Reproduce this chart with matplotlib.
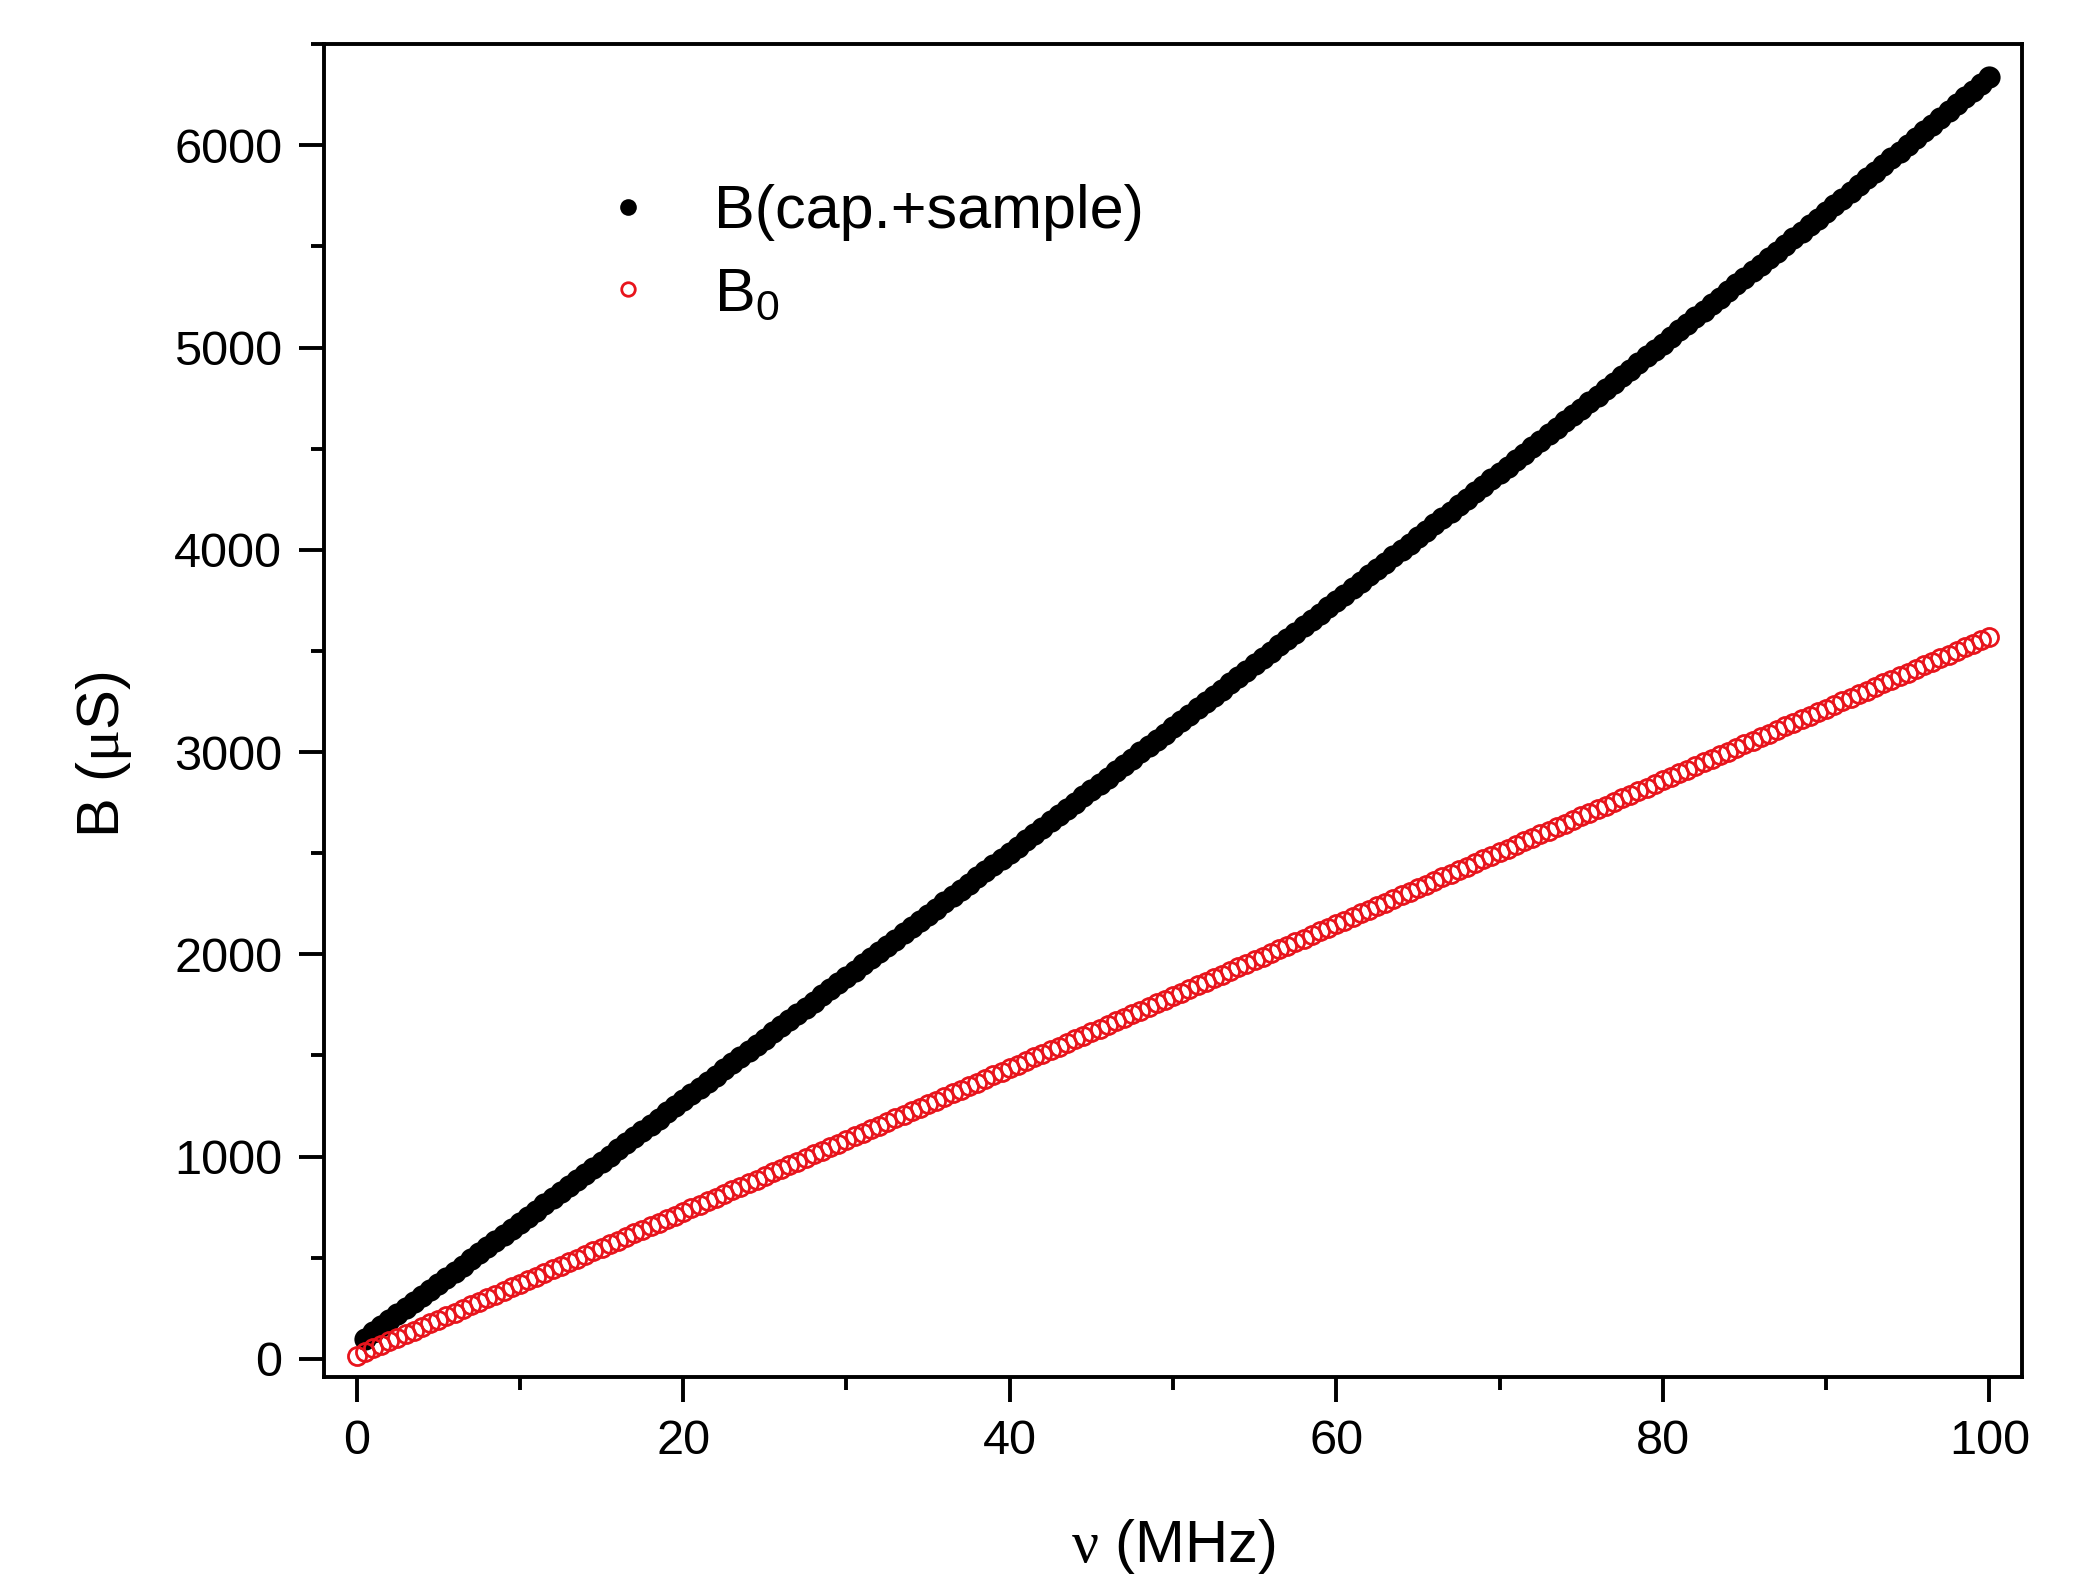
import numpy as np
import matplotlib
matplotlib.use("Agg")
import matplotlib.pyplot as plt
from matplotlib.ticker import MultipleLocator

# --- data (frequency sweep, 0.5 MHz steps) ---
nu_sample = np.arange(0.5, 100.01, 0.5)   # MHz, 200 points
nu_b0 = np.arange(0.0, 100.01, 0.5)       # MHz, 201 points

B_sample = [
    100, 130, 160, 190, 221, 251, 281, 311, 341, 371,
    401, 431, 461, 492, 522, 552, 582, 612, 642, 672,
    703, 733, 763, 794, 824, 854, 884, 915, 945, 975,
    1005, 1036, 1066, 1096, 1127, 1157, 1187, 1218, 1248, 1278,
    1309, 1339, 1370, 1400, 1431, 1461, 1492, 1522, 1553, 1583,
    1614, 1644, 1675, 1705, 1736, 1766, 1797, 1827, 1858, 1888,
    1919, 1950, 1980, 2011, 2042, 2072, 2103, 2134, 2164, 2195,
    2226, 2257, 2287, 2318, 2349, 2380, 2410, 2441, 2472, 2502,
    2533, 2564, 2595, 2626, 2657, 2688, 2719, 2750, 2781, 2812,
    2843, 2874, 2905, 2936, 2967, 2998, 3029, 3060, 3091, 3122,
    3153, 3184, 3216, 3247, 3278, 3309, 3340, 3372, 3403, 3434,
    3465, 3497, 3528, 3559, 3591, 3622, 3653, 3685, 3716, 3748,
    3779, 3810, 3842, 3874, 3905, 3936, 3968, 4000, 4031, 4062,
    4094, 4126, 4158, 4189, 4221, 4253, 4284, 4316, 4348, 4380,
    4411, 4443, 4475, 4507, 4539, 4571, 4603, 4635, 4667, 4698,
    4731, 4763, 4795, 4827, 4859, 4891, 4924, 4956, 4988, 5020,
    5052, 5085, 5117, 5150, 5182, 5214, 5247, 5279, 5312, 5344,
    5377, 5409, 5442, 5475, 5508, 5540, 5573, 5606, 5638, 5671,
    5704, 5737, 5770, 5804, 5837, 5870, 5903, 5936, 5969, 6002,
    6036, 6070, 6103, 6137, 6170, 6204, 6238, 6271, 6305, 6338,
]

B_0 = [
    15, 33, 51, 68, 86, 104, 122, 139, 157, 175,
    193, 211, 228, 246, 264, 282, 300, 317, 335, 353,
    371, 388, 406, 424, 442, 460, 477, 495, 513, 531,
    548, 566, 584, 602, 620, 637, 655, 673, 691, 708,
    726, 744, 762, 780, 797, 815, 833, 851, 868, 886,
    904, 922, 940, 957, 975, 993, 1011, 1029, 1046, 1064,
    1082, 1100, 1117, 1135, 1153, 1171, 1189, 1206, 1224, 1242,
    1260, 1277, 1295, 1313, 1331, 1349, 1366, 1384, 1402, 1420,
    1437, 1455, 1473, 1491, 1509, 1526, 1544, 1562, 1580, 1597,
    1615, 1633, 1651, 1669, 1686, 1704, 1722, 1740, 1757, 1775,
    1793, 1811, 1829, 1846, 1864, 1882, 1900, 1918, 1935, 1953,
    1971, 1989, 2006, 2024, 2042, 2060, 2078, 2095, 2113, 2131,
    2149, 2166, 2184, 2202, 2220, 2238, 2255, 2273, 2291, 2309,
    2326, 2344, 2362, 2380, 2398, 2415, 2433, 2451, 2469, 2486,
    2504, 2522, 2540, 2558, 2575, 2593, 2611, 2629, 2646, 2664,
    2682, 2700, 2718, 2735, 2753, 2771, 2789, 2807, 2824, 2842,
    2860, 2878, 2895, 2913, 2931, 2949, 2967, 2984, 3002, 3020,
    3038, 3055, 3073, 3091, 3109, 3127, 3144, 3162, 3180, 3198,
    3215, 3233, 3251, 3269, 3287, 3304, 3322, 3340, 3358, 3375,
    3393, 3411, 3429, 3446, 3464, 3482, 3500, 3518, 3535, 3553,
    3571,
]

labels = ['B(cap.+sample)', r'$\mathregular{B_0}$']

# --- style ---
plt.rcParams['font.family'] = ['Liberation Sans', 'DejaVu Sans']
plt.rcParams['mathtext.fontset'] = 'custom'
plt.rcParams['mathtext.rm'] = 'Liberation Sans'
plt.rcParams['mathtext.it'] = 'Liberation Serif'
plt.rcParams['mathtext.bf'] = 'Liberation Sans:bold'

fig = plt.figure(figsize=(20.85, 15.8), dpi=100)
ax = fig.add_axes([0.1554, 0.1285, 0.8144, 0.8435])

ax.plot(nu_sample, B_sample, 'o', color='black', markersize=16,
        markeredgewidth=0, label=labels[0], zorder=2)
ax.plot(nu_b0, B_0, 'o', markerfacecolor='none', markeredgecolor='#e8141c',
        markersize=13, markeredgewidth=2.0, label=labels[1], zorder=3)

ax.set_xlim(-2, 102)
ax.set_ylim(-90, 6500)
ax.xaxis.set_major_locator(MultipleLocator(20))
ax.xaxis.set_minor_locator(MultipleLocator(10))
ax.yaxis.set_major_locator(MultipleLocator(1000))
ax.yaxis.set_minor_locator(MultipleLocator(500))

for s in ax.spines.values():
    s.set_linewidth(2.8)
ax.tick_params(which='both', direction='out', width=2.8, top=False, right=False)
ax.tick_params(which='major', length=18, pad=12, labelsize=35)
ax.tick_params(which='minor', length=9.5)

ax.set_xlabel(r'$\nu$ (MHz)', fontsize=43, va='center')
ax.xaxis.set_label_coords(0.5, -0.1275)
ax.set_ylabel(r'B ($\mu$S)', fontsize=43, va='center')
ax.yaxis.set_label_coords(-0.1296, 0.467)

leg = ax.legend(loc='upper left', bbox_to_anchor=(0.161, 0.895), frameon=False,
                fontsize=44, numpoints=1, handlelength=1.0, handletextpad=0.9,
                borderpad=0, borderaxespad=0, labelspacing=0.42,
                markerscale=0.75)

fig.savefig('out.png', dpi=100)
